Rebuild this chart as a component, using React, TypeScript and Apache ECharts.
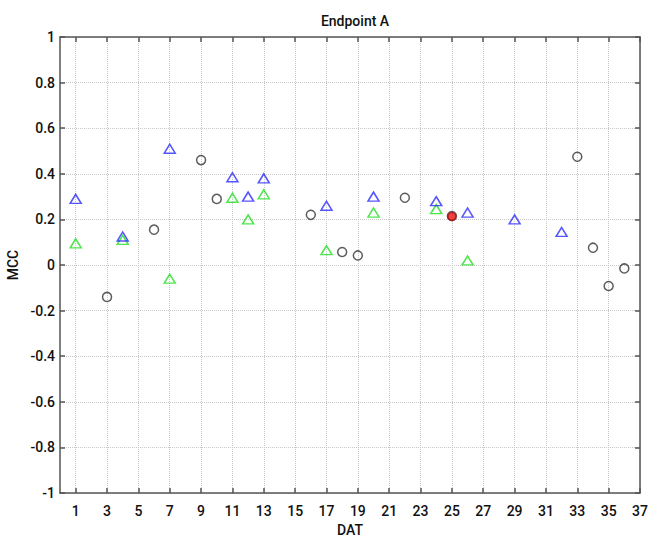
import React, { useEffect, useRef } from "react";
import * as echarts from "echarts";

// Day-after-treatment positions and MCC values per marker group
const blueDays = [1, 4, 7, 11, 12, 13, 17, 20, 24, 26, 29, 32];
const blueMcc = [0.29, 0.125, 0.51, 0.385, 0.3, 0.38, 0.26, 0.3, 0.28, 0.23, 0.2, 0.145];

const greenDays = [1, 4, 7, 11, 12, 13, 17, 20, 24, 26];
const greenMcc = [0.095, 0.11, -0.06, 0.295, 0.2, 0.31, 0.065, 0.23, 0.245, 0.02];

const blackDays = [3, 6, 9, 10, 16, 18, 19, 22, 25, 33, 34, 35, 36];
const blackMcc = [-0.14, 0.155, 0.46, 0.29, 0.22, 0.057, 0.042, 0.295, 0.215, 0.475, 0.076, -0.092, -0.015];

const redDays = [25];
const redMcc = [0.213];

const xTicks = [1, 3, 5, 7, 9, 11, 13, 15, 17, 19, 21, 23, 25, 27, 29, 31, 33, 35, 37];

const FONT = "Roboto, 'Liberation Sans', Arial, sans-serif";

const pairs = (xs: number[], ys: number[]) => xs.map((x, i) => [x, ys[i]]);

export default function App() {
  const ref = useRef<HTMLDivElement>(null);

  useEffect(() => {
    if (!ref.current) return;
    const chart = echarts.init(ref.current, undefined, { renderer: "svg" });

    const axisLine = { show: true, onZero: false, lineStyle: { color: "#555", width: 1.5 } };
    const tickStyle = { inside: true, length: 5, lineStyle: { color: "#555", width: 1.5 } };
    const gridStyle = { show: true, lineStyle: { color: "#c8c8c8", type: "dotted" as const, width: 1 } };
    const labelStyle = { fontFamily: FONT, fontSize: 14, fontWeight: 500 as const, color: "#111" };

    const hollow = (color: string, width = 1.5) => ({
      color: "rgba(0,0,0,0)",
      borderColor: color,
      borderWidth: width,
    });

    chart.setOption({
      animation: false,
      backgroundColor: "#fff",
      title: {
        text: "Endpoint A",
        left: 350,
        top: 9,
        textAlign: "center",
        textStyle: { fontFamily: FONT, fontSize: 14, fontWeight: 500, color: "#111" },
      },
      grid: { left: 60, right: 19, top: 37, bottom: 51, containLabel: false, outerBoundsMode: "none" },
      xAxis: [
        {
          type: "value",
          min: 0,
          max: 37,
          name: "DAT",
          nameLocation: "middle",
          nameGap: 26,
          nameTextStyle: labelStyle,
          axisLine,
          axisTick: { ...tickStyle, customValues: xTicks },
          axisLabel: { ...labelStyle, margin: 11, customValues: xTicks },
          splitLine: gridStyle,
        },
        {
          type: "value",
          position: "top",
          min: 0,
          max: 37,
          axisLine,
          axisTick: { ...tickStyle, customValues: xTicks },
          axisLabel: { show: false },
          splitLine: { show: false },
        },
      ],
      yAxis: [
        {
          type: "value",
          min: -1,
          max: 1,
          interval: 0.2,
          name: "MCC",
          nameLocation: "middle",
          nameGap: 34,
          nameTextStyle: labelStyle,
          axisLine,
          axisTick: tickStyle,
          axisLabel: { ...labelStyle, margin: 5 },
          splitLine: gridStyle,
        },
        {
          type: "value",
          position: "right",
          min: -1,
          max: 1,
          interval: 0.2,
          axisLine,
          axisTick: tickStyle,
          axisLabel: { show: false },
          splitLine: { show: false },
        },
      ],
      series: [
        {
          type: "scatter",
          name: "black",
          symbol: "circle",
          symbolSize: 9,
          itemStyle: hollow("#333"),
          data: pairs(blackDays, blackMcc),
        },
        {
          type: "scatter",
          name: "green",
          symbol: "triangle",
          symbolSize: [11, 9],
          itemStyle: hollow("#22e022"),
          data: pairs(greenDays, greenMcc),
        },
        {
          type: "scatter",
          name: "blue",
          symbol: "triangle",
          symbolSize: [11, 9],
          itemStyle: hollow("#2a2aff"),
          data: pairs(blueDays, blueMcc),
        },
        {
          type: "scatter",
          name: "red",
          symbol: "circle",
          symbolSize: 8,
          itemStyle: { color: "#ee1111", borderColor: "#aa1111", borderWidth: 1.5 },
          data: pairs(redDays, redMcc),
        },
      ],
    });

    return () => chart.dispose();
  }, []);

  return (
    <div
      ref={ref}
      style={{ position: "fixed", left: 0, top: 0, width: 659, height: 544, background: "#fff" }}
    />
  );
}
